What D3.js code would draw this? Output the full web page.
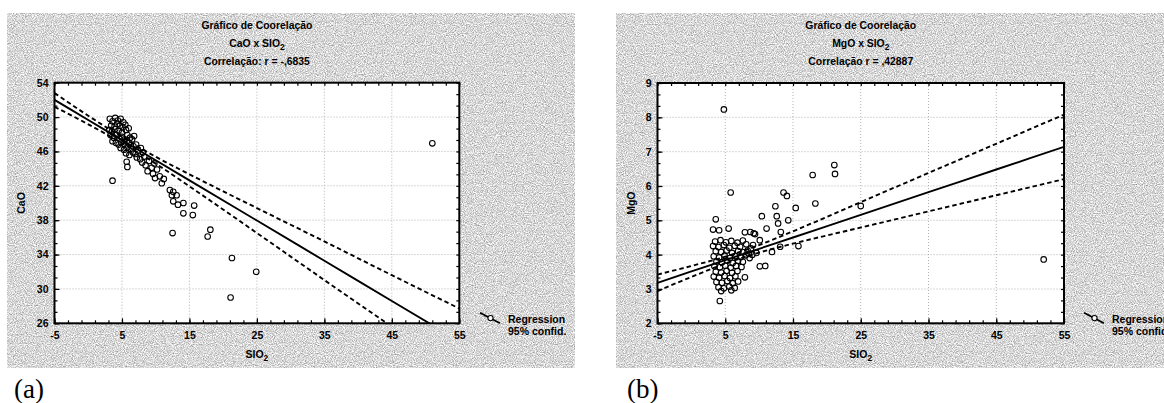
<!DOCTYPE html>
<html>
<head>
<meta charset="utf-8">
<script src="https://cdn.jsdelivr.net/npm/d3@7"></script>
<style>
  body { margin: 0; background: #fff; }
  svg { display: block; }
</style>
</head>
<body>
<script>
// tick labels
const xTicks = [-5, 5, 15, 25, 35, 45, 55];
const caoTicks = [26, 30, 34, 38, 42, 46, 50, 54];
const mgoTicks = [2, 3, 4, 5, 6, 7, 8, 9];

// titles ("_" marks a subscript)
const titlesA = ["Gráfico de Coorelação", "CaO x SIO_2", "Correlação: r = -,6835"];
const titlesB = ["Gráfico de Coorelação", "MgO x SIO_2", "Correlação r = ,42887"];
const legendText = ["Regression", "95% confid."];

// CaO vs SiO2 samples, [SiO2, CaO]
const caoPoints = [
  [3.2,49.8],[3.6,49.5],[4.0,49.9],[4.4,49.6],[4.8,49.8],[5.2,49.4],
  [3.4,49.0],[3.9,48.9],[4.3,49.2],[4.7,49.0],[5.1,48.8],[5.5,49.1],
  [3.1,48.5],[3.5,48.3],[4.0,48.6],[4.5,48.4],[5.0,48.2],[5.6,48.5],[6.0,48.7],
  [3.3,47.9],[3.8,47.6],[4.2,47.9],[4.6,47.5],[5.0,47.7],[5.4,47.4],[5.8,47.9],[6.2,47.6],
  [3.6,47.2],[4.1,47.0],[4.5,46.8],[4.9,47.1],[5.3,46.9],[5.7,47.2],[6.1,47.0],[6.5,47.4],[6.8,47.8],
  [4.8,46.4],[5.3,46.2],[5.8,46.5],[6.3,46.3],[6.7,46.6],[7.1,46.8],
  [5.6,45.8],[6.1,45.6],[6.6,45.9],[7.0,45.7],[7.4,46.1],[7.8,46.4],[8.1,45.9],
  [7.2,45.3],[7.7,45.1],[8.3,45.4],
  [5.7,44.8],[5.8,44.2],[8.0,44.7],[8.5,44.4],[9.0,44.9],[9.4,44.1],[9.8,44.6],
  [8.8,43.7],[9.6,43.4],[10.2,43.9],[10.6,43.1],[10.9,42.3],[11.2,42.8],[9.9,42.9],
  [12.1,41.5],[12.6,41.3],[13.1,40.9],[12.4,40.9],[12.6,40.2],[13.3,39.8],
  [14.1,40.0],[14.1,38.8],[15.7,39.7],[15.5,38.6],
  [3.6,42.6],[12.5,36.5],[18.1,36.9],[17.7,36.1],[21.3,33.6],[24.9,32.0],[21.1,29.0],[51.0,46.95]
];

// MgO vs SiO2 samples, [SiO2, MgO]
const mgoPoints = [
  [4.8,8.23],[5.8,5.81],[13.6,5.81],[14.1,5.71],[12.4,5.41],[15.4,5.36],[17.9,6.32],
  [21.1,6.61],[21.2,6.35],[18.3,5.49],[10.4,5.12],[12.6,5.12],[14.3,5.0],[3.6,5.03],
  [12.8,4.91],[11.1,4.76],[13.2,4.66],[3.2,4.73],[4.1,4.71],[5.5,4.76],[7.9,4.65],
  [8.7,4.66],[9.2,4.62],[9.4,4.60],[10.1,4.42],[11.9,4.08],[13.1,4.23],[15.8,4.25],
  [10.1,3.66],[10.9,3.67],[4.2,2.65],[7.9,3.34],[25.0,5.42],[52.0,3.86],
  [8.3,4.12],[9.1,4.28],[9.6,4.05],[8.6,3.9],
  [3.5,4.38],[4.3,4.42],[5.1,4.36],[5.9,4.40],[6.8,4.35],[7.6,4.41],
  [3.2,4.25],[4.0,4.22],[4.8,4.28],[5.6,4.20],[6.4,4.26],[7.2,4.23],[8.1,4.30],[8.8,4.18],
  [3.6,4.10],[4.4,4.08],[5.2,4.12],[6.0,4.05],[6.9,4.10],[7.7,4.07],[8.5,4.02],
  [3.3,3.95],[4.1,3.92],[4.9,3.97],[5.7,3.90],[6.5,3.96],[7.3,3.93],[8.0,3.98],[9.0,4.00],
  [3.7,3.80],[4.5,3.78],[5.3,3.83],[6.1,3.76],[6.9,3.82],[7.6,3.79],
  [3.4,3.66],[4.2,3.63],[5.0,3.68],[5.8,3.62],[6.6,3.67],[7.4,3.64],
  [3.6,3.50],[4.4,3.48],[5.2,3.53],[6.0,3.47],[6.8,3.52],
  [3.3,3.36],[4.1,3.33],[4.9,3.38],[5.7,3.32],[6.5,3.37],
  [3.7,3.20],[4.5,3.18],[5.3,3.23],[6.1,3.17],[6.9,3.22],
  [4.0,3.05],[4.8,3.02],[5.6,3.07],[6.4,3.03],
  [4.4,2.94],[5.9,2.96]
];

// regression line and 95% band, read at these SiO2 values
const fitX = [-5, 0, 5, 10, 15, 25, 35, 45, 55];
const caoFit   = [52.0, 49.66, 47.32, 44.98, 42.64, 37.96, 33.28, 28.6, 23.92];
const caoUpper = [52.8, 50.16, 47.67, 45.38, 43.34, 39.41, 35.53, 31.6, 27.72];
const caoLower = [51.2, 49.16, 46.97, 44.58, 41.94, 36.51, 31.03, 25.6, 20.12];
const mgoFit   = [3.18, 3.51, 3.84, 4.17, 4.50, 5.16, 5.82, 6.48, 7.14];
const mgoUpper = [3.42, 3.67, 3.94, 4.28, 4.68, 5.53, 6.38, 7.23, 8.08];
const mgoLower = [2.94, 3.35, 3.74, 4.06, 4.32, 4.79, 5.26, 5.73, 6.20];

const font = "'Liberation Sans', Arial, sans-serif";

const svg = d3.select("body").append("svg")
    .attr("width", 1164)
    .attr("height", 403);

const defs = svg.append("defs");
const grain = defs.append("filter")
    .attr("id", "grain")
    .attr("x", 0).attr("y", 0).attr("width", 1).attr("height", 1)
    .attr("color-interpolation-filters", "sRGB");
grain.append("feTurbulence")
    .attr("type", "fractalNoise")
    .attr("baseFrequency", 0.9)
    .attr("numOctaves", 2)
    .attr("seed", 7);
grain.append("feColorMatrix")
    .attr("type", "matrix")
    .attr("values", "0.75 0 0 0 0.47  0.75 0 0 0 0.47  0.75 0 0 0 0.47  0 0 0 0 1");

function addText(g, str, x, y, size, anchor) {
  const parts = str.split("_");
  const t = g.append("text")
      .attr("x", x).attr("y", y)
      .attr("text-anchor", anchor || "middle")
      .attr("font-family", font)
      .attr("font-weight", "bold")
      .attr("font-size", size);
  t.append("tspan").text(parts[0]);
  if (parts[1]) t.append("tspan").attr("dy", 3).attr("font-size", size * 0.8).text(parts[1]);
  return t;
}

function drawPanel(p) {
  const g = svg.append("g");

  g.append("rect")
      .attr("x", p.bg[0]).attr("y", p.bg[1])
      .attr("width", p.bg[2]).attr("height", p.bg[3])
      .attr("fill", "#d6d6d6")
      .attr("filter", "url(#grain)");

  const x = d3.scaleLinear().domain([-5, 55]).range(p.xRange);
  const y = d3.scaleLinear().domain(d3.extent(p.yTicks)).range(p.yRange);
  const [x0, x1] = p.xRange, [y0, y1] = p.yRange;

  defs.append("clipPath").attr("id", "clip" + p.id)
    .append("rect")
      .attr("x", x0).attr("y", y1)
      .attr("width", x1 - x0).attr("height", y0 - y1);

  g.append("rect")
      .attr("x", x0).attr("y", y1)
      .attr("width", x1 - x0).attr("height", y0 - y1)
      .attr("fill", "#fff");

  // dotted grid
  const grid = g.append("g")
      .attr("stroke", "#a0a0a0")
      .attr("stroke-width", 0.8)
      .attr("stroke-dasharray", "1,2");
  grid.selectAll(".gx").data(xTicks.slice(1, -1)).join("line")
      .attr("x1", d => x(d)).attr("x2", d => x(d))
      .attr("y1", y1).attr("y2", y0);
  grid.selectAll(".gy").data(p.yTicks.slice(1, -1)).join("line")
      .attr("y1", d => y(d)).attr("y2", d => y(d))
      .attr("x1", x0).attr("x2", x1);

  // regression + confidence band
  const line = d3.line()
      .curve(d3.curveMonotoneX)
      .x(d => x(d[0]))
      .y(d => y(d[1]));
  const lines = g.append("g").attr("clip-path", "url(#clip" + p.id + ")")
      .attr("fill", "none").attr("stroke", "#000");
  lines.append("path")
      .attr("d", line(fitX.map((v, i) => [v, p.fit[i]])))
      .attr("stroke-width", 1.9);
  [p.upper, p.lower].forEach(band => {
    lines.append("path")
        .attr("d", line(fitX.map((v, i) => [v, band[i]])))
        .attr("stroke-width", 1.9)
        .attr("stroke-dasharray", "4.5,3");
  });

  // samples
  g.append("g")
      .attr("clip-path", "url(#clip" + p.id + ")")
    .selectAll("circle").data(p.points).join("circle")
      .attr("cx", d => x(d[0]))
      .attr("cy", d => y(d[1]))
      .attr("r", 2.8)
      .attr("fill", "none")
      .attr("stroke", "#000")
      .attr("stroke-width", 1.1);

  // axes: labelled majors, inward minor ticks on all sides
  const minorX = d3.range(-5, 55.01, 2);
  const step = p.yTicks[1] - p.yTicks[0];
  const minorY = d3.range(p.yTicks[0], p.yTicks[p.yTicks.length - 1] + 0.01, step / 3);

  const axes = [
    [d3.axisBottom(x).tickValues(xTicks).tickSize(-5).tickPadding(8).tickFormat(d => String(d)), `translate(0,${y0})`],
    [d3.axisLeft(y).tickValues(p.yTicks).tickSize(-5).tickPadding(6).tickFormat(d => String(d)), `translate(${x0},0)`],
    [d3.axisBottom(x).tickValues(minorX).tickSize(-3).tickFormat(""), `translate(0,${y0})`],
    [d3.axisTop(x).tickValues(minorX).tickSize(-3).tickFormat(""), `translate(0,${y1})`],
    [d3.axisLeft(y).tickValues(minorY).tickSize(-3).tickFormat(""), `translate(${x0},0)`],
    [d3.axisRight(y).tickValues(minorY).tickSize(-3).tickFormat(""), `translate(${x1},0)`]
  ];
  axes.forEach(([ax, tr]) => {
    const a = g.append("g").attr("transform", tr).call(ax);
    a.select(".domain").remove();
    a.selectAll("line").attr("stroke-width", 1.2);
    a.attr("font-family", font).attr("font-size", 10.5).attr("font-weight", "bold");
  });

  g.append("rect")
      .attr("x", x0).attr("y", y1)
      .attr("width", x1 - x0).attr("height", y0 - y1)
      .attr("fill", "none")
      .attr("stroke", "#000")
      .attr("stroke-width", 2);

  // titles
  const cx = (x0 + x1) / 2;
  p.titles.forEach((t, i) => addText(g, t, cx, 29 + i * 18, 10.4));

  addText(g, "SIO_2", cx, 358, 10.5);
  addText(g, p.yLabel, 0, 0, 10.5)
      .attr("transform", `translate(${p.yLabelX},${(y0 + y1) / 2}) rotate(-90)`);

  // legend
  const [lx, ly] = p.legend;
  g.append("line")
      .attr("x1", lx).attr("y1", ly)
      .attr("x2", lx + 20).attr("y2", ly + 10.5)
      .attr("stroke", "#000").attr("stroke-width", 1.8);
  g.append("circle")
      .attr("cx", lx + 10.5).attr("cy", ly + 5.3).attr("r", 2.6)
      .attr("fill", "#fff").attr("stroke", "#000").attr("stroke-width", 1.1);
  legendText.forEach((t, i) => addText(g, t, lx + 28, ly + 10.5 + i * 12, 10.5, "start"));

  g.append("text")
      .attr("x", p.tag[0]).attr("y", p.tag[1])
      .attr("font-family", "'Liberation Serif', 'Times New Roman', serif")
      .attr("font-size", 27)
      .text(p.tagText);
}

drawPanel({
  id: "a", bg: [7, 13, 568, 355],
  xRange: [54.5, 459.3], yRange: [323.3, 82.7],
  yTicks: caoTicks, points: caoPoints,
  fit: caoFit, upper: caoUpper, lower: caoLower,
  titles: titlesA, yLabel: "CaO", yLabelX: 25,
  legend: [480, 312.8], tag: [14, 398], tagText: "(a)"
});

drawPanel({
  id: "b", bg: [616, 13, 560, 355],
  xRange: [657.5, 1064], yRange: [323.3, 83],
  yTicks: mgoTicks, points: mgoPoints,
  fit: mgoFit, upper: mgoUpper, lower: mgoLower,
  titles: titlesB, yLabel: "MgO", yLabelX: 635,
  legend: [1084, 312.8], tag: [627, 398], tagText: "(b)"
});
</script>
</body>
</html>
